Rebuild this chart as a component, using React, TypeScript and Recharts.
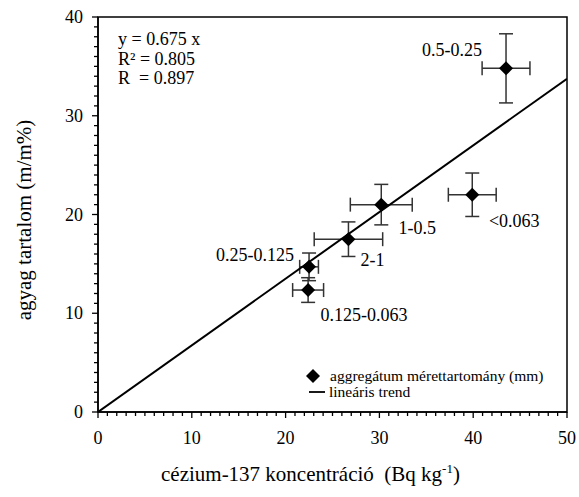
import * as React from 'react';
import { ScatterChart, Scatter, XAxis, YAxis, ErrorBar, ReferenceArea, Customized } from 'recharts';

const sizeClasses = ['0.5-0.25', '<0.063', '1-0.5', '2-1', '0.25-0.125', '0.125-0.063'];
const cesium = [43.5, 39.9, 30.2, 26.7, 22.5, 22.4];
const cesiumErr = [2.55, 2.55, 3.3, 3.65, 1.0, 1.65];
const clay = [34.8, 22.0, 21.0, 17.5, 14.7, 12.35];
const clayErr = [3.5, 2.2, 2.05, 1.75, 1.4, 1.25];

const slope = 0.675;
const trendX = [0, 50];
const xTicks = Array.from({ length: 51 }, (_, i) => i);
const yTicks = Array.from({ length: 41 }, (_, i) => i);
const equationLines = ['y = 0.675 x', 'R² = 0.805', 'R  = 0.897'];
const legendNames = ['aggregátum mérettartomány (mm)', 'lineáris trend'];

const FONT = "'Liberation Serif', 'Times New Roman', serif";
const txt = { fontFamily: FONT, whiteSpace: 'pre' as const };

// label offsets (text centre relative to point)
const labelOffsets = [[-54, -18], [42, 26], [36, 23], [24, 21], [-54, -12], [56, 25]];

const points = sizeClasses.map((name, i) => ({
    name, x: cesium[i], y: clay[i], ex: cesiumErr[i], ey: clayErr[i], idx: i,
}));
const trendData = trendX.map(x => ({ x, y: slope * x }));

const XTick = (props: any) => {
    const { x, y, payload } = props;
    const v = payload.value;
    const major = v % 10 === 0;
    return (
        <g>
            <line x1={x} y1={y} x2={x} y2={y + (major ? 6 : 4)} stroke="#000" strokeWidth={1.3} />
            {major && (
                <text x={x} y={y + 32} textAnchor="middle" fontSize={18} style={txt} fill="#000">{v}</text>
            )}
        </g>
    );
};

const YTick = (props: any) => {
    const { x, y, payload } = props;
    const v = payload.value;
    const major = v % 10 === 0;
    return (
        <g>
            <line x1={x} y1={y} x2={x - (major ? 6 : 4)} y2={y} stroke="#000" strokeWidth={1.3} />
            {major && (
                <text x={x - 15} y={y + 6} textAnchor="end" fontSize={18} style={txt} fill="#000">{v}</text>
            )}
        </g>
    );
};

const Diamond = (props: any) => {
    const { cx, cy, payload } = props;
    const r = 7;
    const [dx, dy] = labelOffsets[payload.idx];
    return (
        <g>
            <polygon points={`${cx},${cy - r} ${cx + r},${cy} ${cx},${cy + r} ${cx - r},${cy}`} fill="#000" />
            <text x={cx + dx} y={cy + dy + 6} textAnchor="middle" fontSize={18} style={txt} fill="#000">
                {payload.name}
            </text>
        </g>
    );
};

const Annotations = () => (
    <g fill="#000">
        {equationLines.map((t, i) => (
            <text key={t} x={118} y={45 + i * 19.5} fontSize={18} style={txt}>{t}</text>
        ))}
        <polygon points="313,369 320,376 313,383 306,376" fill="#000" />
        <text x={330} y={381} fontSize={15.5} style={txt}>{legendNames[0]}</text>
        <line x1={309} y1={392} x2={325} y2={392} stroke="#000" strokeWidth={1.8} />
        <text x={329} y={397} fontSize={15.5} style={txt}>{legendNames[1]}</text>
        <text x={161} y={481} fontSize={21} style={txt}>
            <tspan>cézium-137 koncentráció  (Bq kg</tspan>
            <tspan dy={-8} fontSize={13}>-1</tspan>
            <tspan dy={8}>)</tspan>
        </text>
        <text x={31} y={220} fontSize={21} textAnchor="middle" style={txt} transform="rotate(-90 31 220)">
            agyag tartalom (m/m%)
        </text>
    </g>
);

export default function App() {
    return (
        <div style={{ position: 'fixed', left: 0, top: 0, width: 579, height: 497, background: '#fff' }}>
            <ScatterChart width={579} height={497} margin={{ top: 17, right: 12, bottom: 0, left: 0 }} style={{ fontFamily: FONT }}>
                <XAxis
                    type="number"
                    dataKey="x"
                    domain={[0, 50]}
                    ticks={xTicks}
                    interval={0}
                    tickSize={0}
                    tickMargin={0}
                    tickLine={false}
                    tick={<XTick />}
                    height={85}
                    axisLine={{ stroke: '#000', strokeWidth: 1.5 }}
                    allowDataOverflow
                />
                <YAxis
                    type="number"
                    dataKey="y"
                    domain={[0, 40]}
                    ticks={yTicks}
                    interval={0}
                    tickSize={0}
                    tickMargin={0}
                    tickLine={false}
                    tick={<YTick />}
                    width={98}
                    axisLine={{ stroke: '#000', strokeWidth: 1.5 }}
                    allowDataOverflow
                />
                <ReferenceArea x1={0} x2={50} y1={0} y2={40} fill="none" fillOpacity={0} stroke="#000" strokeWidth={1.5} />
                <Scatter
                    data={trendData}
                    line={{ stroke: '#000', strokeWidth: 2 }}
                    shape={() => <g />}
                    isAnimationActive={false}
                />
                <Scatter data={points} shape={<Diamond />} isAnimationActive={false}>
                    <ErrorBar dataKey="ex" direction="x" width={7} stroke="#333" strokeWidth={1.5} isAnimationActive={false} />
                    <ErrorBar dataKey="ey" direction="y" width={7} stroke="#333" strokeWidth={1.5} isAnimationActive={false} />
                </Scatter>
                <Customized component={Annotations} />
            </ScatterChart>
        </div>
    );
}
